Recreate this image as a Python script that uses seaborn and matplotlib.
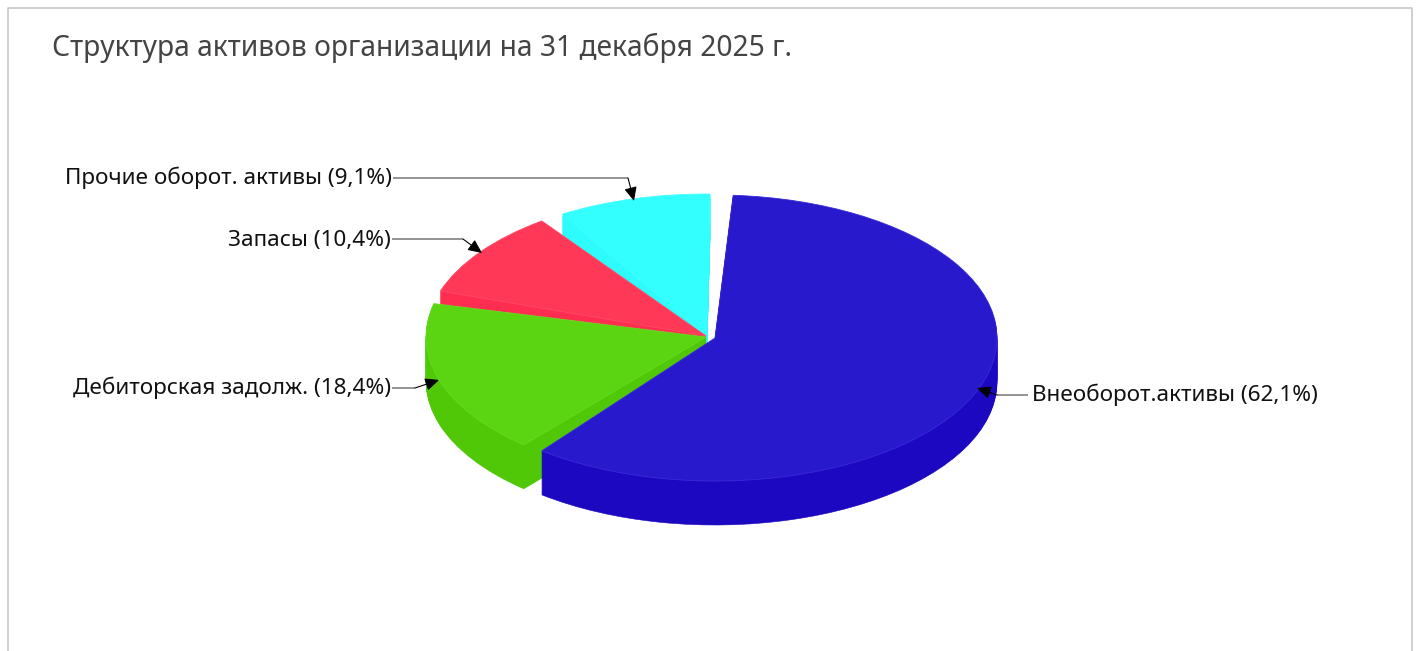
import matplotlib.pyplot as plt
import numpy as np
import seaborn as sns

# подписи и доли из легенды
categories = ["Внеоборот.активы", "Дебиторская задолж.", "Запасы", "Прочие оборот. активы"]
label_pct = ["62,1", "18,4", "10,4", "9,1"]
# доли дуг, как они нарисованы на картинке (между ними зазоры), в %
arc_pct = [59.5, 17.5, 9.9, 8.8]
gap_pct = [0.75, 1.35, 1.4, 0.7]

top_colors = ["#2819cd", "#5bd412", "#ff3857", "#33ffff"]
side_colors = ["#1c08c0", "#50c807", "#ff2d50", "#2efbfb"]
rim_colors = ["#3a2bd8", "#66dc22", "#ff4a66", "#40ffff"]

W, H = 1417, 651
RX, RY = 282, 143
DEPTH = 44
K = RX / RY

sns.set_theme(style="white")
plt.rcParams["font.family"] = ["Noto Sans", "DejaVu Sans"]


def yd(py):
    # пиксель картинки -> координата по y (эллипс вместо круга)
    return (H - py) * K


fig = plt.figure(figsize=(W / 100, H / 100), dpi=100, facecolor="white")
ax = fig.add_axes([0, 0, 1, 1])

# начальные углы секторов, по часовой стрелке
starts = []
a = 86.3
for arc, gap in zip(arc_pct, gap_pct):
    starts.append(a)
    a -= (arc + gap) * 3.6

centers = [(715, 338), (706, 337), (706, 336), (706, 336)]
radii = [RX, RX - 2, RX - 2, RX - 2]

# рисуем сзади наперёд: прочие, запасы, дебиторка, внеоборотные
for i in [3, 2, 1, 0]:
    cx, cy = centers[i]
    # боковая стенка - стопка смещённых секторов
    for d in range(DEPTH, 0, -1):
        ax.pie([arc_pct[i] / 100], startangle=starts[i], counterclock=False, normalize=False,
               center=(cx, yd(cy + d)), radius=radii[i], colors=[side_colors[i]],
               wedgeprops={"edgecolor": side_colors[i], "linewidth": 0.4})
    ax.pie([arc_pct[i] / 100], startangle=starts[i], counterclock=False, normalize=False,
           center=(cx, yd(cy)), radius=radii[i], colors=[top_colors[i]],
           wedgeprops={"edgecolor": rim_colors[i], "linewidth": 0.6})

ax.set_aspect("auto")
ax.set_xlim(0, W)
ax.set_ylim(0, H * K)
ax.axis("off")

# выноски: текст, излом, конец стрелки
leaders = [
    ((1028, 395), (997, 395), (977, 388)),
    ((392, 388), (415, 388), (439, 380)),
    ((392, 239), (463, 239), (482, 253)),
    ((393, 178), (628, 178), (634, 201)),
]
text_anchor = [(1032, 395, "left"), (391, 388, "right"), (391, 240, "right"), (392, 178, "right")]

for i, (p0, p1, p2) in enumerate(leaders):
    ax.plot([p0[0], p1[0]], [yd(p0[1]), yd(p1[1])], color="#777777", lw=1.1, solid_capstyle="butt")
    ax.annotate("", xy=(p2[0], yd(p2[1])), xytext=(p1[0], yd(p1[1])),
                arrowprops=dict(arrowstyle="-|>,head_length=0.7,head_width=0.32", color="black",
                                lw=0.8, shrinkA=0, shrinkB=0))
    x, y, ha = text_anchor[i]
    ax.text(x, yd(y), f"{categories[i]} ({label_pct[i]}%)", ha=ha, va="center",
            fontsize=16.2, color="#111111")

ax.text(52, yd(48), "Структура активов организации на 31 декабря 2025 г.", ha="left", va="center",
        fontsize=20.3, color="#444444")

# рамка: слева, сверху, справа
ax.plot([8, 8, 1412, 1412], [yd(H), yd(8), yd(8), yd(H)], color="#c8c8c8", lw=1.2, clip_on=False)

fig.savefig("out.png", dpi=100, facecolor="white")
